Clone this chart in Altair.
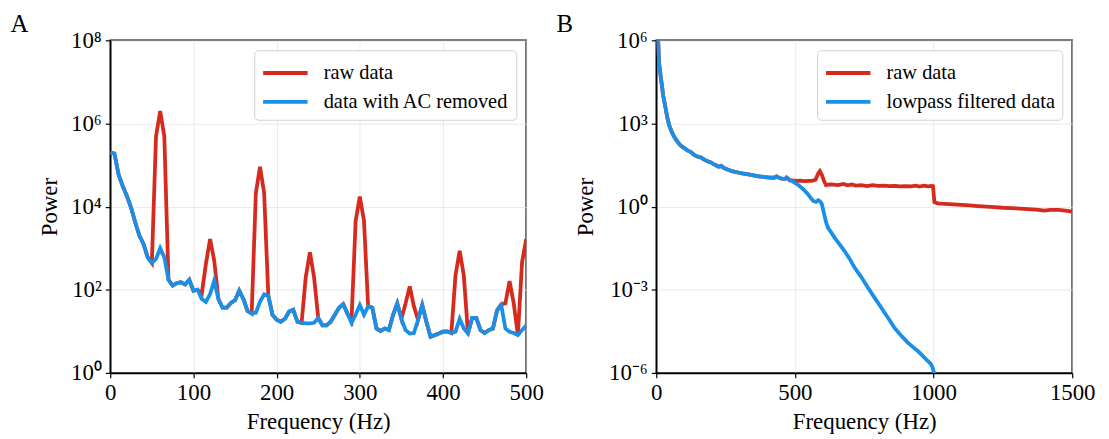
import altair as alt
import pandas as pd

# ---------------- Panel A data ----------------
freq_a = list(range(0, 505, 5))
power_a_ac_removed = [
    2.0e5, 1.9e5, 5.9e4, 3.1e4, 1.8e4, 9.5e3, 4.2e3, 2.0e3, 1.26e3, 600,
    440, 550, 1000, 600, 174, 126, 145, 151, 135, 174,
    95, 100, 60, 51, 79, 166, 60, 37, 37, 48,
    56, 95, 60, 31, 27, 28, 51, 78, 72, 25,
    19, 17, 20, 30, 33, 17, 16, 15.5, 15.5, 16,
    21, 14, 14, 17, 25, 37, 45, 27, 16, 25,
    43, 25, 40, 37, 11.7, 10.2, 11.7, 10.7, 25, 47,
    20, 10.7, 8.9, 9.1, 19, 43, 17, 7.4, 8.1, 8.9,
    9.8, 10, 9.1, 9.8, 20, 11.7, 8.9, 21, 21, 10.7,
    9.1, 10.7, 11.7, 32, 43, 11.7, 9.8, 9.1, 8.1, 10.7,
    14,
]
power_a_raw = [
    2.0e5, 1.9e5, 5.9e4, 3.1e4, 1.8e4, 9.5e3, 4.2e3, 2.0e3, 1.26e3, 600,
    440, 4.9e5, 2.0e6, 4.9e5, 174, 126, 145, 151, 135, 174,
    95, 100, 80, 420, 1660, 500, 60, 37, 37, 48,
    56, 95, 60, 31, 27, 2.1e4, 9.1e4, 2.1e4, 72, 25,
    19, 17, 20, 30, 33, 17, 16, 200, 800, 200,
    21, 14, 14, 17, 25, 37, 45, 27, 18, 4.6e3,
    1.74e4, 4.6e3, 40, 37, 11.7, 10.2, 11.7, 10.7, 25, 47,
    20, 47, 120, 40, 19, 43, 17, 7.4, 8.1, 8.9,
    9.8, 10, 9.1, 220, 870, 220, 8.9, 21, 21, 10.7,
    9.1, 10.7, 11.7, 32, 45, 47, 162, 47, 8.1, 457,
    1660,
]

# ---------------- Panel B data ----------------
freq_b_low = [0, 7, 10, 14, 20, 25, 30, 35, 40, 47, 55, 63, 75, 88, 100, 112,
              125, 138, 150, 160, 170, 183, 195, 210, 225, 235, 243, 255, 273,
              290, 310, 332, 350, 370, 392, 410, 425, 434, 445, 452, 465, 470, 482]
power_b_low = [2.5e6, 9.0e5, 1.6e5, 7.0e4, 2.5e4, 1.0e4, 5.6e3, 3.0e3, 1.6e3, 830,
               525, 350, 230, 158, 132, 107, 93, 72, 63, 60, 52, 44, 40, 33, 27.5,
               29.5, 25, 22.4, 19, 17.4, 15.8, 14.5, 13.5, 12.3, 11.7, 11.2, 11.0,
               12.3, 10.7, 10.2, 10.0, 11.2, 8.9]

freq_b_filt_tail = [490, 500, 512, 524, 536, 548, 558, 566, 576, 584, 590, 597,
                    605, 612, 619, 630, 643, 660, 679, 697, 715, 740, 763, 787,
                    811, 835, 858, 882, 906, 925, 942, 960, 978, 990, 996, 1003]
power_b_filt_tail = [8.5, 7.2, 6.0, 4.8, 3.7, 2.75, 2.0, 1.6, 1.48, 1.7, 1.58,
                     1.26, 0.56, 0.28, 0.174, 0.12, 0.076, 0.045, 0.025, 0.0132,
                     6.3e-3, 2.8e-3, 1.2e-3, 5.2e-4, 2.3e-4, 1.0e-4, 4.4e-5,
                     2.3e-5, 1.26e-5, 8.7e-6, 6.3e-6, 4.2e-6, 2.75e-6, 2.1e-6,
                     1.6e-6, 9.1e-7]

freq_b_raw_tail = [490, 505, 520, 535, 550, 565, 575, 583, 590, 597, 605, 612,
                   625, 640, 655, 675, 690, 705, 720, 740, 760, 780, 800, 820,
                   840, 860, 880, 900, 920, 935, 950, 965, 980, 992, 998, 1003,
                   1015, 1040, 1070, 1100, 1130, 1160, 1190, 1220, 1250, 1280,
                   1310, 1340, 1370, 1400, 1420, 1450, 1475, 1500]
power_b_raw_tail = [8.9, 8.5, 8.7, 8.3, 8.5, 8.7, 9.5, 15.1, 19, 14.1, 8.3, 6.0,
                    6.3, 6.2, 6.0, 6.6, 5.9, 6.3, 5.75, 6.0, 5.5, 5.9, 5.6, 5.75,
                    5.5, 5.6, 5.4, 5.5, 5.4, 5.75, 5.25, 5.75, 5.4, 5.6, 5.5, 1.45,
                    1.32, 1.26, 1.2, 1.15, 1.1, 1.05, 1.0, 0.95, 0.91, 0.89,
                    0.85, 0.81, 0.78, 0.72, 0.76, 0.76, 0.71, 0.66]

labels_a = ["raw data", "data with AC removed"]
labels_b = ["raw data", "lowpass filtered data"]
colors = ["#d62a1e", "#1a8fe8"]

yticks_a = [1, 1e2, 1e4, 1e6, 1e8]
yticks_b = [1e-6, 1e-3, 1, 1e3, 1e6]
xticks_a = [0, 100, 200, 300, 400, 500]
xticks_b = [0, 500, 1000, 1500]

FONT = "Liberation Serif"
SUP = "['\u2070','\u00b9','\u00b2','\u00b3','\u2074','\u2075','\u2076','\u2077','\u2078','\u2079']"
EXP = "round(log(datum.value)/LN10)"
label_expr = f"'10' + ({EXP} < 0 ? '\u207b' : '') + {SUP}[abs({EXP})]"

df_a_raw = pd.DataFrame({"f": freq_a, "p": power_a_raw, "s": labels_a[0]})
df_a_ac = pd.DataFrame({"f": freq_a, "p": power_a_ac_removed, "s": labels_a[1]})
df_b_raw = pd.DataFrame({"f": freq_b_low + freq_b_raw_tail,
                         "p": power_b_low + power_b_raw_tail, "s": labels_b[0]})
df_b_filt = pd.DataFrame({"f": freq_b_low + freq_b_filt_tail,
                          "p": power_b_low + power_b_filt_tail, "s": labels_b[1]})


def panel(df_red, df_blue, labels, xdom, xticks, ydom, yticks, letter, title_pad, letter_dx):
    color = alt.Color(
        "s:N",
        scale=alt.Scale(domain=labels, range=colors),
        legend=alt.Legend(
            title=None, orient="top-right", offset=10,
            symbolType="M-1,0H2.2", symbolStrokeWidth=4, symbolSize=784,
            labelFont=FONT, labelFontSize=20.5, labelColor="black", labelLimit=0,
            strokeColor="#d0d0d0", fillColor="white", cornerRadius=4,
            padding=7, labelOffset=31, rowPadding=2,
        ),
    )
    x = alt.X(
        "f:Q",
        scale=alt.Scale(domain=xdom, nice=False, zero=False),
        axis=alt.Axis(values=xticks, title="Frequency (Hz)", format="d"),
    )
    y = alt.Y(
        "p:Q",
        scale=alt.Scale(type="log", domain=ydom, nice=False),
        axis=alt.Axis(values=yticks, title="Power", labelExpr=label_expr,
                      titlePadding=title_pad),
    )
    red = alt.Chart(df_red).mark_line(strokeWidth=3.8, clip=True).encode(
        x=x, y=y, color=color)
    blue = alt.Chart(df_blue).mark_line(strokeWidth=3.8, clip=True).encode(
        x=x, y=y, color=color)
    return alt.layer(red, blue).properties(
        width=419, height=335,
        title=alt.TitleParams(letter, anchor="start", frame="bounds",
                              font=FONT, fontSize=25, fontWeight="normal",
                              color="black", dx=letter_dx, offset=-8),
    )


pa = panel(df_a_raw, df_a_ac, labels_a, [0, 500], xticks_a, [1, 1e8], yticks_a, "A", 9, -28.5)
pb = panel(df_b_raw, df_b_filt, labels_b, [0, 1500], xticks_b, [1e-6, 1e6], yticks_b, "B", 11, -18.5)

chart = alt.hconcat(pa, pb, spacing=11).resolve_scale(color="independent").configure(
    padding={"left": 1, "top": 2, "right": 5, "bottom": 0},
).configure_view(
    stroke="black", strokeWidth=1.5,
).configure_axis(
    labelFont=FONT, labelFontSize=23, labelColor="black", labelFlush=False,
    titleFont=FONT, titleFontSize=23, titleFontWeight="normal", titleColor="black",
    domainColor="black", domainWidth=1.5,
    tickColor="black", tickWidth=1.2, tickSize=5, labelPadding=4,
    grid=True, gridColor="#e3e3e3", gridWidth=0.8,
).configure_axisX(
    titlePadding=6,
)

chart.save("out.html", embed_options={"renderer": "svg", "actions": False})
